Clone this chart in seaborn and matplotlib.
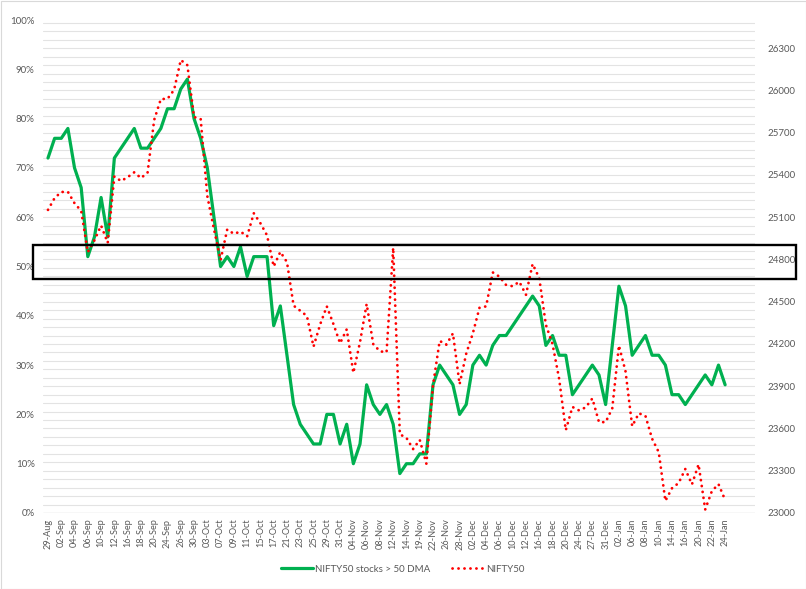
import numpy as np
import pandas as pd
import matplotlib
matplotlib.use("Agg")
import matplotlib.pyplot as plt
from matplotlib.patches import Rectangle
from matplotlib.lines import Line2D
from matplotlib.ticker import FixedLocator, FuncFormatter
import seaborn as sns

dates = ["29-Aug", "30-Aug", "02-Sep", "03-Sep", "04-Sep", "05-Sep", "06-Sep", "09-Sep", "10-Sep",
         "11-Sep", "12-Sep", "13-Sep", "16-Sep", "17-Sep", "18-Sep", "19-Sep", "20-Sep", "23-Sep",
         "24-Sep", "25-Sep", "26-Sep", "27-Sep", "30-Sep", "01-Oct", "03-Oct", "04-Oct", "07-Oct",
         "08-Oct", "09-Oct", "10-Oct", "11-Oct", "14-Oct", "15-Oct", "16-Oct", "17-Oct", "18-Oct",
         "21-Oct", "22-Oct", "23-Oct", "24-Oct", "25-Oct", "28-Oct", "29-Oct", "30-Oct", "31-Oct",
         "01-Nov", "04-Nov", "05-Nov", "06-Nov", "07-Nov", "08-Nov", "11-Nov", "12-Nov", "13-Nov",
         "14-Nov", "18-Nov", "19-Nov", "21-Nov", "22-Nov", "25-Nov", "26-Nov", "27-Nov", "28-Nov",
         "29-Nov", "02-Dec", "03-Dec", "04-Dec", "05-Dec", "06-Dec", "09-Dec", "10-Dec", "11-Dec",
         "12-Dec", "13-Dec", "16-Dec", "17-Dec", "18-Dec", "19-Dec", "20-Dec", "23-Dec", "24-Dec",
         "26-Dec", "27-Dec", "30-Dec", "31-Dec", "01-Jan", "02-Jan", "03-Jan", "06-Jan", "07-Jan",
         "08-Jan", "09-Jan", "10-Jan", "13-Jan", "14-Jan", "15-Jan", "16-Jan", "17-Jan", "20-Jan",
         "21-Jan", "22-Jan", "23-Jan", "24-Jan"]

# % of NIFTY50 stocks above 50 DMA (left axis)
pct_above_50dma = [72, 76, 76, 78, 70, 66, 52, 56, 64, 56, 72, 74, 76, 78, 74, 74, 76, 78, 82, 82,
                   86, 88, 80, 76, 70, 60, 50, 52, 50, 54, 48, 52, 52, 52, 38, 42, 32, 22, 18, 16,
                   14, 14, 20, 20, 14, 18, 10, 14, 26, 22, 20, 22, 18, 8, 10, 10, 12, 12, 26, 30,
                   28, 26, 20, 22, 30, 32, 30, 34, 36, 36, 38, 40, 42, 44, 42, 34, 36, 32, 32, 24,
                   26, 28, 30, 28, 22, 34, 46, 42, 32, 34, 36, 32, 32, 30, 24, 24, 22, 24, 26, 28,
                   26, 30, 26]

# NIFTY50 index level (right axis)
nifty50 = [25152, 25236, 25279, 25280, 25199, 25145, 24852, 24936, 25041, 24918, 25389, 25357,
           25384, 25419, 25378, 25416, 25791, 25939, 25940, 26004, 26216, 26179, 25811, 25797,
           25250, 25015, 24796, 25013, 24982, 24998, 24964, 25128, 25057, 24971, 24750, 24854,
           24781, 24472, 24436, 24399, 24181, 24339, 24467, 24341, 24205, 24304, 23995, 24213,
           24484, 24199, 24148, 24141, 24883, 23559, 23533, 23454, 23519, 23350, 23907, 24222,
           24195, 24275, 23914, 24131, 24276, 24457, 24467, 24708, 24678, 24619, 24610, 24642,
           24549, 24768, 24668, 24336, 24199, 23952, 23588, 23753, 23728, 23750, 23813, 23645,
           23645, 23743, 24189, 24005, 23616, 23708, 23689, 23527, 23432, 23086, 23176, 23213,
           23312, 23203, 23345, 23025, 23155, 23205, 23092]

left_ticks = [0, 10, 20, 30, 40, 50, 60, 70, 80, 90, 100]
right_ticks = [23000, 23300, 23600, 23900, 24200, 24500, 24800, 25100, 25400, 25700, 26000, 26300]
right_range = (23000, 26500)

green_label = "NIFTY50 stocks > 50 DMA"
red_label = "NIFTY50"

df = pd.DataFrame({"idx": np.arange(len(dates)), "date": dates,
                   "pct": pct_above_50dma, "nifty": nifty50})

sns.set_style("white")
plt.rcParams["font.family"] = ["Lato", "DejaVu Sans"]
GREEN = "#00B050"
RED = "#FF0000"
TXT = "#595959"
GRID = "#E3E3E3"

W, H = 806, 589
fig = plt.figure(figsize=(W / 100, H / 100), dpi=100)
L, R, T, B = 43, 755, 20, 513
ax = fig.add_axes([L / W, 1 - B / H, (R - L) / W, (B - T) / H])
ax.set_zorder(1)
ax.patch.set_visible(False)

sns.lineplot(data=df, x="idx", y="pct", ax=ax, color=GREEN, linewidth=2.3,
             legend=False, solid_capstyle="round", solid_joinstyle="round", zorder=3)
ax.set_ylim(0, 100)
ax.set_xlim(-0.75, 106.5)
ax.set_yticks(left_ticks)
ax.yaxis.set_major_formatter(FuncFormatter(lambda v, p: f"{v:.0f}%"))

ax2 = ax.twinx()
ax2.set_zorder(2)
ax2.patch.set_visible(False)
sns.lineplot(data=df, x="idx", y="nifty", ax=ax2, color=RED, linewidth=2.0,
             linestyle=(0, (0.05, 2.1)), dash_capstyle="round", legend=False, zorder=4)
ax2.set_ylim(*right_range)
ax2.set_yticks(right_ticks)
ax2.yaxis.set_major_formatter(FuncFormatter(lambda v, p: f"{v:.0f}"))

# background gridlines following the right axis (every 60 points), drawn on the lowest axes
bg = fig.add_axes(ax.get_position(), sharex=ax)
bg.set_zorder(0)
bg.set_ylim(*right_range)
bg.yaxis.set_major_locator(FixedLocator(np.arange(right_range[0], right_range[1], 60)))
bg.grid(axis="y", color=GRID, linewidth=0.8)
bg.set_yticklabels([])
bg.tick_params(left=False, bottom=False, labelbottom=False)
for s in bg.spines.values():
    s.set_visible(False)

ax.set_xticks(df["idx"][::2])
ax.set_xticklabels(df["date"][::2], rotation=90)
for a in (ax, ax2):
    a.set_xlabel("")
    a.set_ylabel("")
    for s in a.spines.values():
        s.set_visible(False)
    a.grid(False)
ax.tick_params(axis="x", length=0, pad=4, labelsize=6.6, labelcolor=TXT)
ax.tick_params(axis="y", length=0, pad=6, labelsize=7, labelcolor=TXT)
ax2.tick_params(axis="y", length=0, pad=9, labelsize=7, labelcolor=TXT)

# bottom axis line
bg.axhline(right_range[0], color="#D0D0D0", linewidth=0.9)

# highlight box around the 50% zone
fig.add_artist(Rectangle((33 / W, 1 - 279 / H), (796 - 33) / W, (279 - 245) / H,
                         transform=fig.transFigure, fill=False, edgecolor="black",
                         linewidth=1.7, zorder=10))

handles = [Line2D([0], [0], color=GREEN, linewidth=2.3),
           Line2D([0], [0], color=RED, linewidth=2.0, linestyle=(0, (0.05, 2.1)),
                  dash_capstyle="round")]
fig.legend(handles, [green_label, red_label], loc="center", bbox_to_anchor=(0.5, 1 - 569 / H),
           ncol=2, frameon=False, fontsize=7, labelcolor=TXT, handlelength=3.2,
           columnspacing=2.2, handletextpad=0.3)

fig.add_artist(Rectangle((0.5 / W, 0.5 / H), (W - 1) / W, (H - 1) / H, transform=fig.transFigure,
                         fill=False, edgecolor="#D9D9D9", linewidth=0.8))

fig.savefig("out.png", dpi=100)
